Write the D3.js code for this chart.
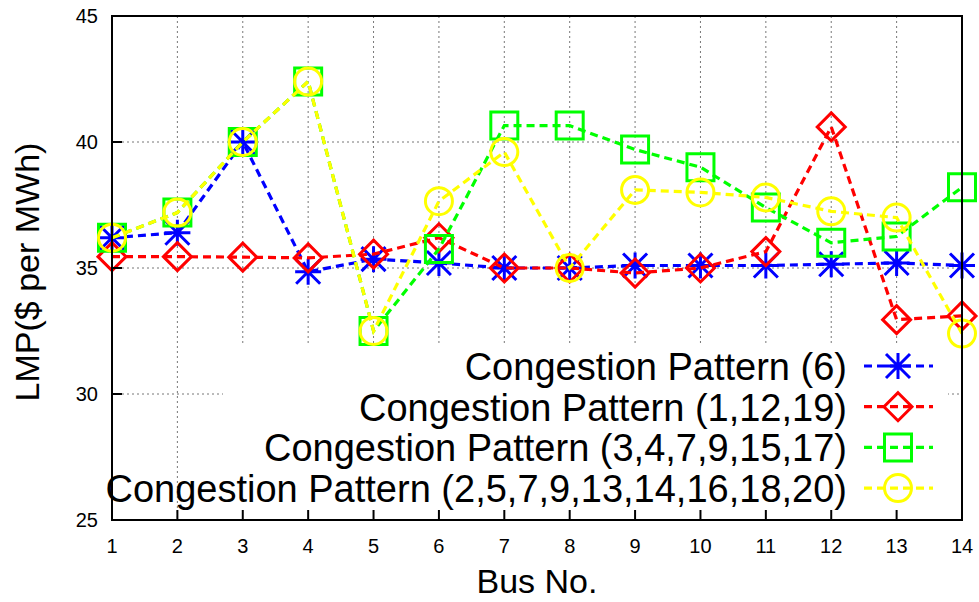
<!DOCTYPE html>
<html>
<head>
<meta charset="utf-8">
<script src="https://cdn.jsdelivr.net/npm/d3@7"></script>
<style>
  html, body { margin: 0; padding: 0; background: #fff; }
  svg { display: block; font-family: "Liberation Sans", Arial, Helvetica, sans-serif; }
</style>
</head>
<body>
<svg id="chart" width="979" height="602"></svg>
<script>
// Bus numbers on the x axis
const buses = [1, 2, 3, 4, 5, 6, 7, 8, 9, 10, 11, 12, 13, 14];

// LMP ($/MWh) at each bus for the four congestion patterns
const lmpPattern6 = [36.2, 36.4, 40.0, 34.85, 35.35, 35.2, 35.0, 35.0, 35.1, 35.1, 35.1, 35.15, 35.2, 35.1];
const lmpPattern1_12_19 = [35.45, 35.45, 35.43, 35.4, 35.55, 36.2, 35.0, 35.0, 34.8, 35.0, 35.65, 40.6, 32.95, 33.1];
const lmpPattern3_4_7 = [36.2, 37.2, 40.0, 42.4, 32.5, 35.75, 40.65, 40.65, 39.7, 39.0, 37.4, 36.0, 36.25, 38.2];
const lmpPattern2_5_7 = [36.2, 37.2, 40.0, 42.4, 32.5, 37.65, 39.6, 35.0, 38.1, 38.0, 37.8, 37.25, 37.0, 32.4];

const seriesNames = [
  "Congestion Pattern (6)",
  "Congestion Pattern (1,12,19)",
  "Congestion Pattern (3,4,7,9,15,17)",
  "Congestion Pattern (2,5,7,9,13,14,16,18,20)"
];
const seriesColors = ["#0000ff", "#ff0000", "#00ff00", "#ffff00"];
const seriesSymbols = ["asterisk", "diamond", "square", "circle"];
const seriesValues = [lmpPattern6, lmpPattern1_12_19, lmpPattern3_4_7, lmpPattern2_5_7];

const yTicks = [25, 30, 35, 40, 45];
const yGrid = [30, 35, 40];
const xGrid = [2, 3, 4, 5, 6, 7, 8, 9, 10, 11, 12, 13];

const svg = d3.select("#chart");
const plotLeft = 112, plotRight = 962, plotTop = 16, plotBottom = 520;

const x = d3.scaleLinear().domain([1, 14]).range([plotLeft, plotRight]);
const y = d3.scaleLinear().domain([25, 45]).range([plotBottom, plotTop]);

// dotted grid
const grid = svg.append("g")
  .attr("stroke", "#777").attr("stroke-width", 1).attr("stroke-dasharray", "2,3");
grid.selectAll("line.v").data(xGrid).join("line")
  .attr("class", "v")
  .attr("x1", d => x(d)).attr("x2", d => x(d))
  .attr("y1", plotTop).attr("y2", plotBottom);
grid.selectAll("line.h").data(yGrid).join("line")
  .attr("class", "h")
  .attr("x1", plotLeft).attr("x2", plotRight)
  .attr("y1", d => y(d)).attr("y2", d => y(d));

// opaque key box hides the grid behind the legend
const keyBox = { x0: 223, x1: 948, y0: 346 };
svg.append("rect")
  .attr("x", keyBox.x0).attr("y", keyBox.y0)
  .attr("width", keyBox.x1 - keyBox.x0).attr("height", plotBottom - keyBox.y0)
  .attr("fill", "#fff");

// point symbols
function symbolPath(kind) {
  if (kind === "asterisk") {
    const s = 13, d = 12;
    return `M${-s},0H${s}M0,${-s}V${s}M${-d},${-d}L${d},${d}M${-d},${d}L${d},${-d}`;
  }
  if (kind === "diamond") {
    const s = 14;
    return `M0,${-s}L${s},0L0,${s}L${-s},0Z`;
  }
  if (kind === "square") {
    const s = 13.5;
    return `M${-s},${-s}H${s}V${s}H${-s}Z`;
  }
  return d3.arc()({ innerRadius: 0, outerRadius: 13.5, startAngle: 0, endAngle: 2 * Math.PI });
}

const line = d3.line().x((d, i) => x(buses[i])).y(d => y(d));

seriesValues.forEach((vals, k) => {
  const g = svg.append("g");
  g.append("path")
    .attr("d", line(vals))
    .attr("fill", "none")
    .attr("stroke", seriesColors[k])
    .attr("stroke-width", 3.2)
    .attr("stroke-dasharray", "8,5");
  g.selectAll("path.pt").data(vals).join("path")
    .attr("class", "pt")
    .attr("transform", (d, i) => `translate(${x(buses[i])},${y(d)})`)
    .attr("d", symbolPath(seriesSymbols[k]))
    .attr("fill", "none")
    .attr("stroke", seriesColors[k])
    .attr("stroke-width", 3);
});

// legend
const legendRight = 847, sampleX0 = 864, sampleX1 = 933, sampleMid = 898;
const rowBase = 380, rowStep = 40.7;
seriesNames.forEach((name, k) => {
  const by = rowBase + k * rowStep;
  const cy = by - 14;
  svg.append("text")
    .attr("x", legendRight).attr("y", by)
    .attr("text-anchor", "end")
    .attr("font-size", 38)
    .attr("fill", "#000")
    .text(name);
  svg.append("line")
    .attr("x1", sampleX0).attr("x2", sampleX1)
    .attr("y1", cy).attr("y2", cy)
    .attr("stroke", seriesColors[k]).attr("stroke-width", 3.2)
    .attr("stroke-dasharray", "8,5");
  svg.append("path")
    .attr("transform", `translate(${sampleMid},${cy})`)
    .attr("d", symbolPath(seriesSymbols[k]))
    .attr("fill", "none")
    .attr("stroke", seriesColors[k]).attr("stroke-width", 3);
});

// axes frame
const axes = svg.append("g").attr("stroke", "#000").attr("stroke-width", 2);
axes.append("rect")
  .attr("x", plotLeft).attr("y", plotTop)
  .attr("width", plotRight - plotLeft).attr("height", plotBottom - plotTop)
  .attr("fill", "none");
axes.selectAll("line.xt").data(buses).join("line")
  .attr("class", "xt")
  .attr("x1", d => x(d)).attr("x2", d => x(d))
  .attr("y1", plotBottom).attr("y2", plotBottom - 10);
axes.selectAll("line.yt").data(yTicks).join("line")
  .attr("class", "yt")
  .attr("x1", plotLeft).attr("x2", plotLeft + 10)
  .attr("y1", d => y(d)).attr("y2", d => y(d));

// tick labels
svg.append("g").selectAll("text").data(buses).join("text")
  .attr("x", d => x(d)).attr("y", 553)
  .attr("text-anchor", "middle").attr("font-size", 20)
  .text(d => d);
svg.append("g").selectAll("text").data(yTicks).join("text")
  .attr("x", 98).attr("y", d => y(d) + 7.3)
  .attr("text-anchor", "end").attr("font-size", 20)
  .text(d => d);

// axis titles
svg.append("text")
  .attr("x", 537).attr("y", 593)
  .attr("text-anchor", "middle").attr("font-size", 34)
  .text("Bus No.");
svg.append("text")
  .attr("transform", "translate(39,272) rotate(-90)")
  .attr("text-anchor", "middle").attr("font-size", 34)
  .text("LMP($ per MWh)");
</script>
</body>
</html>
